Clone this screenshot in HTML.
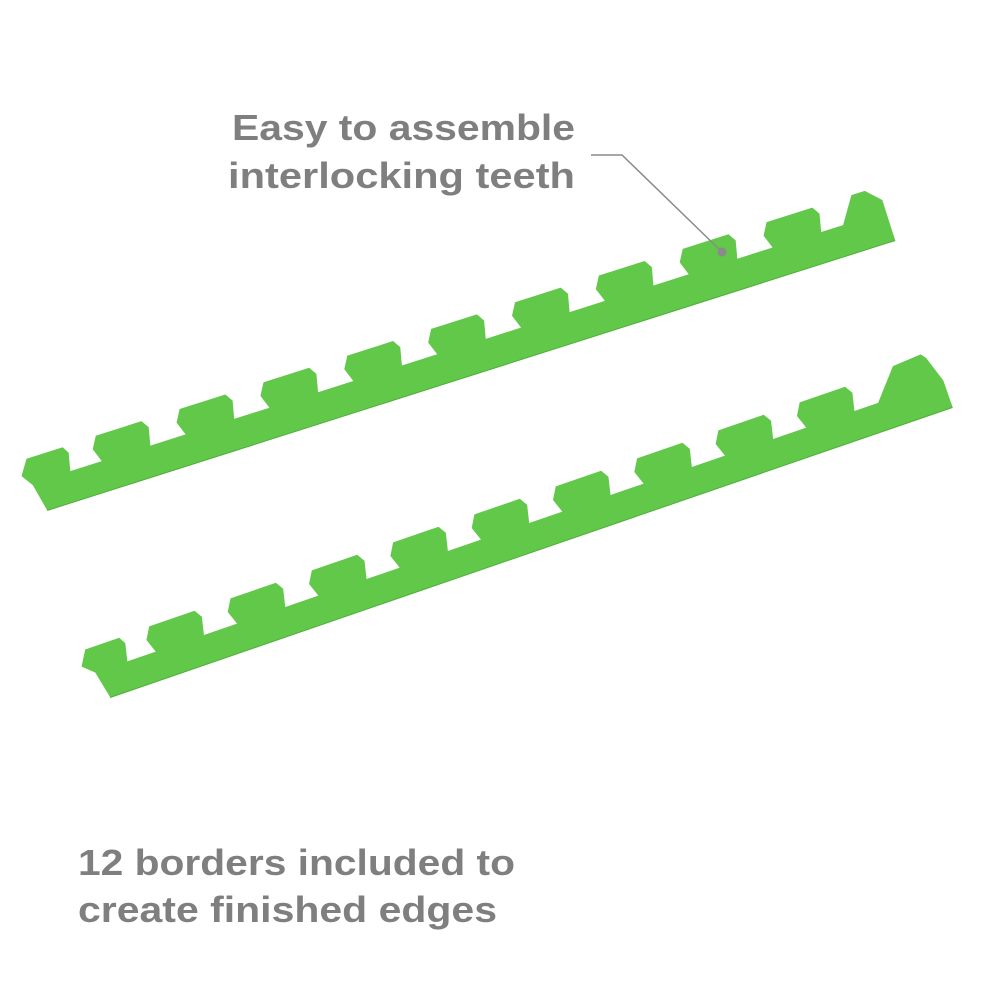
<!DOCTYPE html>
<html><head><meta charset="utf-8"><style>
html,body{margin:0;padding:0;background:#fff;width:1000px;height:1000px;overflow:hidden}
svg{display:block}
text{font-family:"Liberation Sans",sans-serif;font-weight:bold;fill:#7f7f7f}
</style></head><body>
<svg width="1000" height="1000" viewBox="0 0 1000 1000">
<text x="232" y="140" font-size="36" textLength="343" lengthAdjust="spacingAndGlyphs">Easy to assemble</text>
<text x="228" y="188" font-size="36" textLength="347" lengthAdjust="spacingAndGlyphs">interlocking teeth</text>
<text x="78" y="875" font-size="36" textLength="437" lengthAdjust="spacingAndGlyphs">12 borders included to</text>
<text x="78" y="922" font-size="36" textLength="419" lengthAdjust="spacingAndGlyphs">create finished edges</text>

<!-- strip 1 -->
<g transform="translate(47,510) rotate(-17.66)">
<rect x="0" y="-4" width="890" height="5" fill="#4fae3a"/>
<polygon fill="#62c84a" points="0,0 -6,-28 -14,-40 -4,-55 34,-55 38,-48 34,-30
67,-30 62,-44 69,-56 117,-56 122,-48 118,-30
155,-30 150,-44 157,-56 205,-56 210,-48 206,-30
243,-30 238,-44 245,-56 293,-56 298,-48 294,-30
331,-30 326,-44 333,-56 381,-56 386,-48 382,-30
419,-30 414,-44 421,-56 469,-56 474,-48 470,-30
507,-30 502,-44 509,-56 557,-56 562,-48 558,-30
595,-30 590,-44 597,-56 645,-56 650,-48 646,-30
683,-30 678,-44 685,-56 733,-56 738,-48 734,-30
771,-30 766,-44 773,-56 821,-56 826,-48 822,-30
845,-30 862,-56 876,-56 890,-42 890,0"/>
</g>

<!-- strip 2 -->
<g transform="translate(110,697) rotate(-19)">
<rect x="0" y="-4" width="891" height="5" fill="#4fae3a"/>
<polygon fill="#62c84a" points="0,0 -6,-28 -17,-38 -8,-53 28,-53 32,-46 28,-28
58,-28 53,-42 60,-54 108,-54 113,-46 109,-28
144,-28 139,-42 146,-54 194,-54 199,-46 195,-28
230,-28 225,-42 232,-54 280,-54 285,-46 281,-28
316,-28 311,-42 318,-54 366,-54 371,-46 367,-28
402,-28 397,-42 404,-54 452,-54 457,-46 453,-28
488,-28 483,-42 490,-54 538,-54 543,-46 539,-28
574,-28 569,-42 576,-54 624,-54 629,-46 625,-28
660,-28 655,-42 662,-54 710,-54 715,-46 711,-28
746,-28 741,-42 748,-54 796,-54 801,-46 797,-28
822,-28 848,-58 878,-60 882,-55 891,-28 891,0"/>
</g>

<!-- leader -->
<polyline points="591,155 622,155 721,251" fill="none" stroke="#8a8a8a" stroke-width="1.5"/>
<circle cx="722" cy="252" r="4.5" fill="#8a8a8a"/>
</svg>
</body></html>
